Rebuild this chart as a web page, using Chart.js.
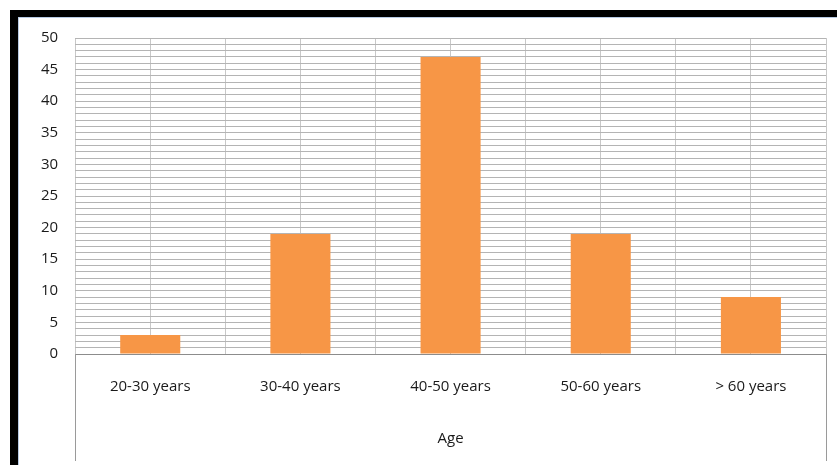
<!DOCTYPE html>
<html>
<head>
<meta charset="utf-8">
<script src="https://cdn.jsdelivr.net/npm/chart.js@4.4.1/dist/chart.umd.min.js"></script>
<style>
  html, body { margin: 0; padding: 0; background: #ffffff; }
  #wrap { position: relative; width: 837px; height: 465px; overflow: hidden; }
  #c { position: absolute; left: 0; top: 0; }
  .bar { position: absolute; background: #000; }
  .edge { position: absolute; background: #b8cbe4; }
</style>
</head>
<body>
<div id="wrap">
  <canvas id="c" width="837" height="465"></canvas>
  <div class="bar" style="left:10px;top:10px;width:827px;height:7px;"></div>
  <div class="bar" style="left:10px;top:10px;width:8px;height:455px;"></div>
  <div class="edge" style="left:18px;top:17px;width:819px;height:1px;"></div>
  <div class="edge" style="left:18px;top:17px;width:1px;height:448px;"></div>
</div>
<script>
const categories = ["20-30 years", "30-40 years", "40-50 years", "50-60 years", "> 60 years"];
const counts = [3, 19, 47, 19, 9];
const halfSlots = ["a", "b", "c", "d", "e", "f", "g", "h", "i", "j"];
const axisTitle = "Age";
const yMin = 0;
const yMax = 50;

const FONT = "'Open Sans', 'DejaVu Sans', sans-serif";

// extends the outer frame lines of the plot down through the label area
const frameLines = {
  id: 'frameLines',
  afterDraw(chart) {
    const xs = chart.scales.x;
    const ctx = chart.ctx;
    const top = chart.chartArea.bottom;
    const bottom = chart.height - 4;
    ctx.save();
    ctx.strokeStyle = '#9a9a9a';
    ctx.lineWidth = 1;
    [-0.5, categories.length - 0.5].forEach((v) => {
      const x = Math.round(xs.getPixelForValue(v)) + 0.5;
      ctx.beginPath();
      ctx.moveTo(x, top);
      ctx.lineTo(x, bottom);
      ctx.stroke();
    });
    ctx.restore();
  }
};

new Chart(document.getElementById('c'), {
  type: 'bar',
  data: {
    labels: categories,
    datasets: [{
      data: counts,
      backgroundColor: '#F79646',
      borderWidth: 0,
      categoryPercentage: 0.8,
      barPercentage: 0.5
    }]
  },
  options: {
    responsive: false,
    animation: false,
    devicePixelRatio: 1,
    layout: { padding: { left: 24, right: 11, top: 38, bottom: 4 } },
    plugins: { legend: { display: false }, tooltip: { enabled: false } },
    scales: {
      x: {
        type: 'category',
        offset: true,
        grid: { offset: true, color: '#c4c4c4', lineWidth: 1, drawTicks: false },
        border: { display: true, color: '#8c8c8c', width: 1 },
        ticks: {
          color: '#1a1a1a',
          font: { family: FONT, size: 15 },
          padding: 24,
          maxRotation: 0,
          autoSkip: false
        },
        title: {
          display: true,
          text: axisTitle,
          color: '#1a1a1a',
          font: { family: FONT, size: 15 },
          padding: { top: 10, bottom: 13 }
        }
      },
      x2: {
        type: 'category',
        labels: halfSlots,
        offset: true,
        position: 'bottom',
        display: true,
        grid: { offset: true, color: '#c8c8c8', lineWidth: 1, drawTicks: false },
        border: { display: false },
        ticks: { display: false }
      },
      y: {
        min: yMin,
        max: yMax,
        grid: { color: '#b4b4b4', lineWidth: 1, drawTicks: false },
        border: { display: false },
        ticks: {
          stepSize: 1,
          autoSkip: false,
          padding: 17,
          color: '#1a1a1a',
          font: { family: FONT, size: 15 },
          callback: (v) => (v % 5 === 0 ? String(v) : '')
        }
      }
    }
  },
  plugins: [frameLines]
});
</script>
</body>
</html>
